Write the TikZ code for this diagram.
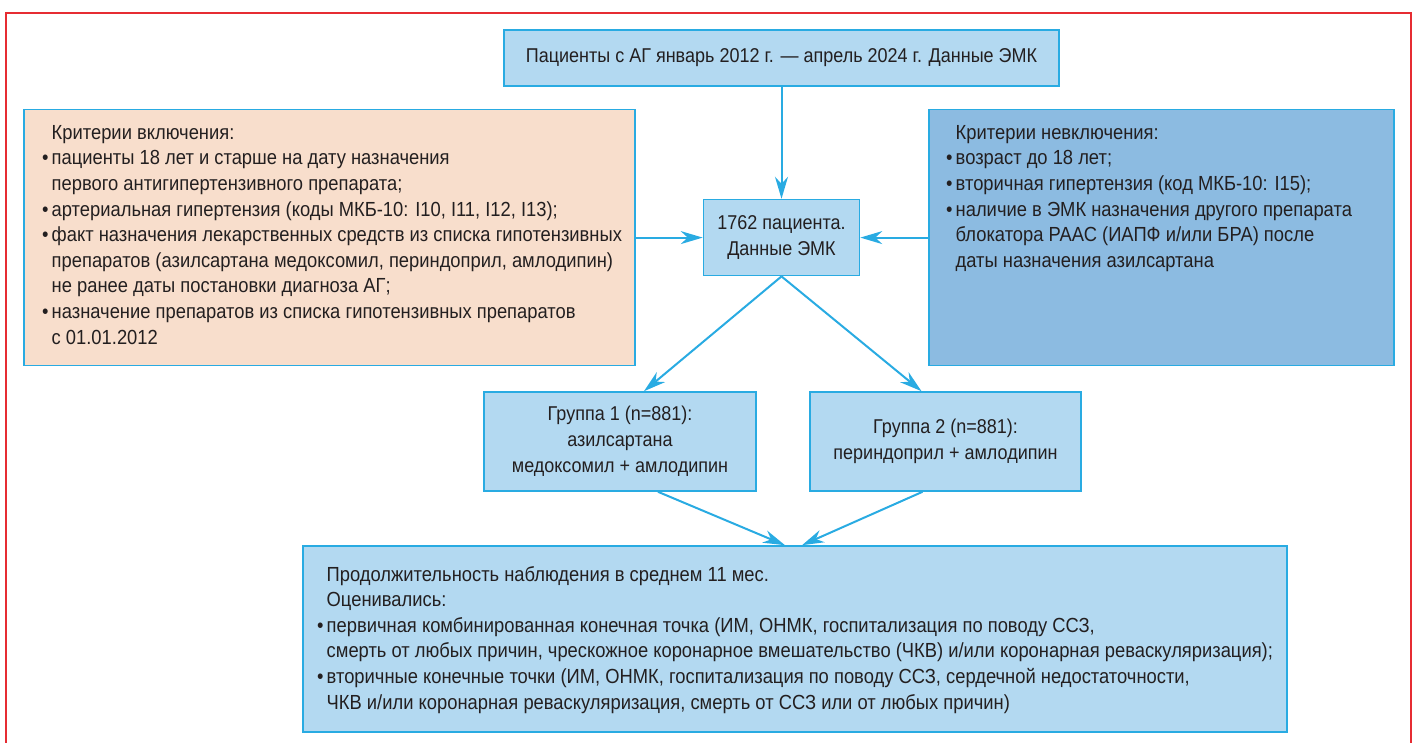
\documentclass[tikz,border=0pt]{standalone}
\usepackage{fontspec}
\setmainfont{Liberation Sans}[FakeStretch=0.9]
\usepackage{xcolor}
\definecolor{flowBlue}{HTML}{B3D9F1}
\definecolor{flowLine}{HTML}{29ABE2}
\definecolor{inclPeach}{HTML}{F8DECC}
\definecolor{exclBlue}{HTML}{8CBBE1}
\definecolor{frameRed}{HTML}{E62C32}
\definecolor{textGray}{HTML}{231F20}
\usetikzlibrary{arrows.meta, positioning}

\newcommand{\itm}{\makebox[9.5pt][l]{\textbullet}}
\newcommand{\ind}{\hspace*{9.5pt}}

\begin{document}
\begin{tikzpicture}[
    x=1pt, y=-1pt,
    flowbox/.style={
        rectangle,
        draw=flowLine,
        line width=1.6pt,
        fill=flowBlue,
        align=center,
        text=textGray,
        font=\fontsize{20}{26}\selectfont
    },
    listtext/.style={
        align=left,
        anchor=north west,
        inner sep=0pt,
        text=textGray,
        font=\fontsize{20.4}{25.6}\selectfont
    },
    flowarrow/.style={
        -{Stealth[length=22pt, width=13pt, inset=7pt]},
        line width=2pt,
        flowLine
    }
]
\useasboundingbox (0,0) rectangle (1414,743);

% red frame, open at the bottom
\draw[frameRed, line width=2pt] (6,743) -- (6,13) -- (1411,13) -- (1411,743);

\node[flowbox, minimum width=555pt, minimum height=56pt] (src) at (781.5,58)
    {Пациенты с АГ январь 2012 г. — апрель 2024 г. Данные ЭМК};
\node[flowbox, minimum width=156pt, minimum height=76pt, below=112pt of src] (pool)
    {1762 пациента.\\Данные ЭМК};

% criteria
\node[flowbox, fill=inclPeach, minimum width=611pt, minimum height=256pt, left=67pt of pool] (incl) {};
\node[listtext] (incltext) at (42,125) {%
    \ind Критерии включения:\\
    \itm пациенты 18 лет и старше на дату назначения\\
    \ind первого антигипертензивного препарата;\\
    \itm артериальная гипертензия (коды МКБ-10: I10, I11, I12, I13);\\
    \itm факт назначения лекарственных средств из списка гипотензивных\\
    \ind препаратов (азилсартана медоксомил, периндоприл, амлодипин)\\
    \ind не ранее даты постановки диагноза АГ;\\
    \itm назначение препаратов из списка гипотензивных препаратов\\
    \ind с 01.01.2012};

\node[flowbox, fill=exclBlue, minimum width=465pt, minimum height=256pt, right=68pt of pool] (excl) {};
\node[listtext] (excltext) at (946,125) {%
    \ind Критерии невключения:\\
    \itm возраст до 18 лет;\\
    \itm вторичная гипертензия (код МКБ-10: I15);\\
    \itm наличие в ЭМК назначения другого препарата\\
    \ind блокатора РААС (ИАПФ и/или БРА) после\\
    \ind даты назначения азилсартана};

% groups
\node[flowbox, minimum width=272pt, minimum height=99pt] (grp1) at (620,441.5)
    {Группа 1 (n=881):\\азилсартана\\медоксомил + амлодипин};
\node[flowbox, minimum width=271pt, minimum height=99pt] (grp2) at (945.5,441.5)
    {Группа 2 (n=881):\\периндоприл + амлодипин};

% follow-up
\node[flowbox, minimum width=984pt, minimum height=186pt] (result) at (795,639) {};
\node[listtext] (resulttext) at (317,566) {%
    \ind Продолжительность наблюдения в среднем 11 мес.\\
    \ind Оценивались:\\
    \itm первичная комбинированная конечная точка (ИМ, ОНМК, госпитализация по поводу ССЗ,\\
    \ind смерть от любых причин, чрескожное коронарное вмешательство (ЧКВ) и/или коронарная реваскуляризация);\\
    \itm вторичные конечные точки (ИМ, ОНМК, госпитализация по поводу ССЗ, сердечной недостаточности,\\
    \ind ЧКВ и/или коронарная реваскуляризация, смерть от ССЗ или от любых причин)};

\draw[flowarrow] (src) -- (pool);
\draw[flowarrow] (incl) -- (pool);
\draw[flowarrow] (excl) -- (pool);
\draw[flowarrow] (pool.south) -- ([xshift=24pt]grp1.north);
\draw[flowarrow] (pool.south) -- ([xshift=-24pt]grp2.north);
\draw[flowarrow] ([xshift=38pt]grp1.south) -- ([xshift=-10pt]result.north);
\draw[flowarrow] ([xshift=-23pt]grp2.south) -- ([xshift=7pt]result.north);
\end{tikzpicture}
\end{document}
